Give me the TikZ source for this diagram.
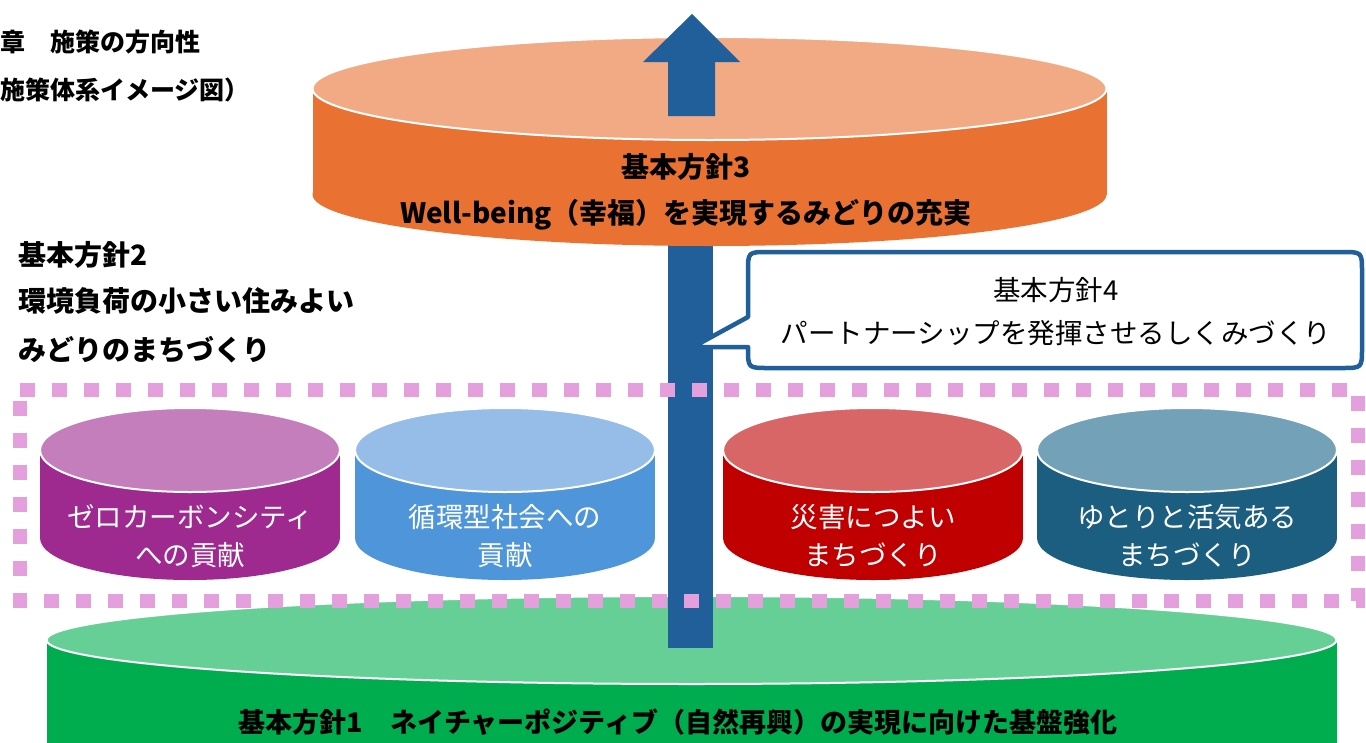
\documentclass[tikz,border=0pt]{standalone}
\usepackage{fontspec}
\setmainfont{Noto Sans CJK JP}
\definecolor{orTop}{HTML}{F2AA84}
\definecolor{orBody}{HTML}{E97132}
\definecolor{grTop}{HTML}{66CF96}
\definecolor{grBody}{HTML}{00AD4E}
\definecolor{puTop}{HTML}{C47EBB}
\definecolor{puBody}{HTML}{9E2A90}
\definecolor{blTop}{HTML}{95BDE7}
\definecolor{blBody}{HTML}{4E95D9}
\definecolor{rdTop}{HTML}{D96666}
\definecolor{rdBody}{HTML}{C00000}
\definecolor{tlTop}{HTML}{72A1B8}
\definecolor{tlBody}{HTML}{1B5E80}
\definecolor{arrowBlue}{HTML}{215F9A}
\definecolor{pinkDot}{HTML}{E4A0DC}
\tikzset{
  txt/.style={inner sep=0pt, text=black},
  boldtxt/.style={txt, font=\bfseries},
  whitetxt/.style={inner sep=0pt, text=white, font=\fontsize{27.5}{30}\selectfont},
  cyltop/.style={draw=white, line width=2pt},
  callout/.style={draw=arrowBlue, fill=white, line width=4.5pt, line join=round},
  dotframe/.style={draw=pinkDot, line width=14pt, dash pattern=on 15pt off 17pt},
  shaft/.style={fill=arrowBlue}
}
\newcommand\mycyl[7]{%
  \fill[#7] ({#1-#3},#2) rectangle ({#1+#3},{#2+#5});
  \fill[#7] (#1,{#2+#5}) ellipse [x radius=#3pt, y radius=#4pt];
  \filldraw[cyltop, fill=#6] (#1,#2) ellipse [x radius=#3pt, y radius=#4pt];
}
\begin{document}
\begin{tikzpicture}[x=1pt, y=-1pt]
\useasboundingbox (0,0) rectangle (1366,742);
% base cylinder (policy 1)
\mycyl{691.5}{640}{645}{44}{120}{grTop}{grBody}
% long shaft of arrow
\fill[shaft] (668,240) rectangle (713,648);
% top cylinder (policy 3)
\mycyl{709.5}{88.5}{397}{51.5}{106}{orTop}{orBody}
% arrow head with short shaft
\fill[shaft] (668,116) -- (668,62) -- (643,62) -- (692,14) -- (740,62) -- (715,62) -- (715,116) -- cycle;
\coordinate (arrowtip) at (692,14);
% four small cylinders
\mycyl{190}{450}{150}{42}{88}{puTop}{puBody}
\mycyl{505}{450}{150}{42}{88}{blTop}{blBody}
\mycyl{873}{450}{150}{42}{88}{rdTop}{rdBody}
\mycyl{1187}{450}{150}{42}{88}{tlTop}{tlBody}
% dotted frame
\draw[dotframe] (20,390) -- (1358,390) -- (1358,601) -- (20,601) -- cycle;
% callout (policy 4)
\draw[callout] (748,317) -- (748,272) .. controls (748,252) .. (768,252) -- (1342,252)
  .. controls (1362,252) .. (1362,272) -- (1362,348) .. controls (1362,368) .. (1342,368)
  -- (768,368) .. controls (748,368) .. (748,348) -- (748,347) -- (693,347) -- cycle;
% texts
\node[boldtxt, anchor=west, font=\bfseries\fontsize{25}{30}\selectfont] (t1) at (0,42) {章　施策の方向性};
\node[boldtxt, anchor=west, font=\bfseries\fontsize{25}{30}\selectfont] (t2) at (0,90) {施策体系イメージ図）};
\node[boldtxt, anchor=west, font=\bfseries\fontsize{28}{32}\selectfont] (p2a) at (18,255) {基本方針2};
\node[boldtxt, anchor=west, font=\bfseries\fontsize{28}{32}\selectfont] (p2b) at (18,301) {環境負荷の小さい住みよい};
\node[boldtxt, anchor=west, font=\bfseries\fontsize{28}{32}\selectfont] (p2c) at (18,350) {みどりのまちづくり};
\node[boldtxt, font=\bfseries\fontsize{28}{32}\selectfont] (p3a) at (686,167) {基本方針3};
\node[boldtxt, font=\bfseries\fontsize{28}{32}\selectfont] (p3b) at (686,215) {Well-being（幸福）を実現するみどりの充実};
\node[txt, font=\fontsize{27.5}{32}\selectfont] (p4a) at (1056,290) {基本方針4};
\node[txt, font=\fontsize{27.5}{32}\selectfont] (p4b) at (1056,333) {パートナーシップを発揮させるしくみづくり};
\node[whitetxt] (c1a) at (190,517) {ゼロカーボンシティ};
\node[whitetxt] (c1b) at (190,555) {への貢献};
\node[whitetxt] (c2a) at (505,517) {循環型社会への};
\node[whitetxt] (c2b) at (505,555) {貢献};
\node[whitetxt] (c3a) at (873,517) {災害につよい};
\node[whitetxt] (c3b) at (873,555) {まちづくり};
\node[whitetxt] (c4a) at (1187,517) {ゆとりと活気ある};
\node[whitetxt] (c4b) at (1187,555) {まちづくり};
\node[boldtxt, font=\bfseries\fontsize{27}{32}\selectfont] (p1) at (678,722) {基本方針1　ネイチャーポジティブ（自然再興）の実現に向けた基盤強化};
\end{tikzpicture}
\end{document}
